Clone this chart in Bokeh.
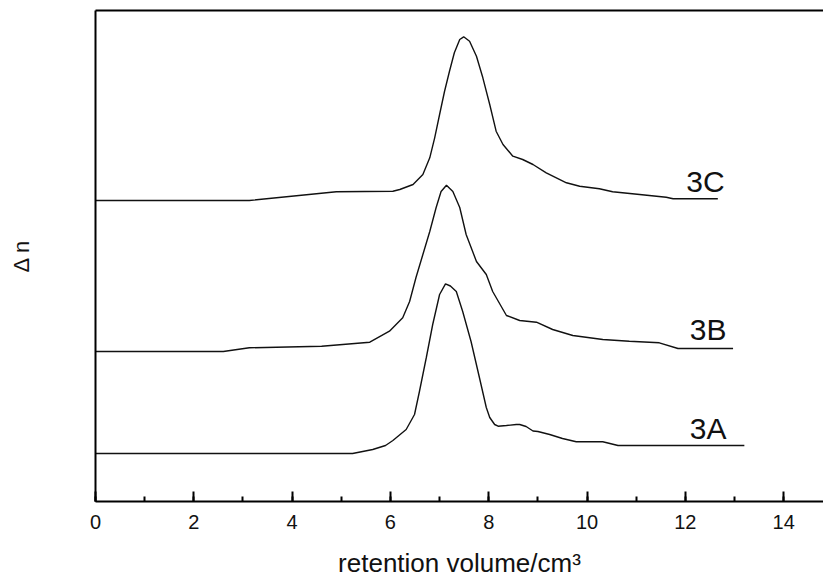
from bokeh.plotting import figure
from bokeh.models import LinearAxis, SingleIntervalTicker, FixedTicker, Range1d
from bokeh.core.properties import value
from bokeh.embed import file_html
from bokeh.resources import INLINE

# ---- data (relative Δn signal above each trace's own baseline) ----
x_3a = [0.0, 5.23, 5.64, 5.9, 6.05, 6.32, 6.49, 6.59, 6.73, 6.86, 7.0, 7.12, 7.22, 7.34, 7.47, 7.64,
        7.81, 7.95, 8.02, 8.12, 8.19, 8.36, 8.56, 8.63, 8.76, 8.9, 9.0, 9.24, 9.5, 9.78, 10.32, 10.63, 13.2]
y_3a = [0, 0, 4, 8, 13, 24, 39, 62, 96, 129, 159, 169.7, 167.5, 162, 142, 112,
        76, 46, 36, 29, 27.3, 28, 29, 29, 27, 22.5, 22, 19, 15, 11.7, 11.7, 8, 8]

x_3b = [0.0, 2.6, 3.13, 4.6, 5.58, 5.98, 6.25, 6.39, 6.52, 6.66, 6.8, 6.93, 7.03, 7.14, 7.27, 7.41,
        7.54, 7.75, 7.95, 8.08, 8.15, 8.36, 8.63, 8.97, 9.3, 9.71, 10.32, 10.86, 11.47, 11.85, 12.97]
y_3b = [0, 0, 3.7, 5.3, 9.3, 20.3, 33.7, 50, 74, 97, 120, 144, 160, 166.3, 160, 144,
        117, 90, 77, 60, 54, 36, 31, 29.3, 22, 16, 12, 10.3, 8.7, 3, 3]

x_3c = [0.0, 3.13, 4.9, 6.05, 6.19, 6.46, 6.66, 6.8, 6.9, 7.0, 7.1, 7.2, 7.3, 7.41, 7.49, 7.61,
        7.75, 7.88, 8.02, 8.15, 8.29, 8.49, 8.69, 8.9, 9.17, 9.58, 9.85, 10.25, 10.52, 11.07, 11.61, 11.75, 12.66]
y_3c = [0, 0, 8.7, 9.3, 11, 16, 26, 42.7, 62.7, 86, 109, 129, 147.7, 161, 163.7, 159.3,
        144.3, 122.7, 96, 69.3, 56, 44.3, 41, 36, 27.7, 17.7, 14.3, 11.7, 8.7, 6, 3.3, 1.7, 1.7]

series_names = ["3A", "3B", "3C"]
baselines = [48, 150, 301]           # vertical offset of each trace
label_x = [12.09, 12.09, 12.02]
label_dy = [25, 22, 19]              # label position above each baseline

xs = [x_3a, x_3b, x_3c]
ys = [y_3a, y_3b, y_3c]

p = figure(width=823, height=582, output_backend="svg", toolbar_location=None,
           x_range=Range1d(0, 14.81), y_range=Range1d(0, 491),
           min_border_left=95, min_border_right=0, min_border_top=10, min_border_bottom=81,
           background_fill_color="white", border_fill_color="white")
p.outline_line_color = None
p.xgrid.visible = False
p.ygrid.visible = False

font = "Liberation Sans"

for xv, yv, b in zip(xs, ys, baselines):
    p.line(xv, [v + b for v in yv], line_color="#111111", line_width=1.4)

p.text(x=label_x, y=[b + d for b, d in zip(baselines, label_dy)], text=series_names,
       text_font=value(font), text_font_size="30px", text_align="left",
       text_baseline="middle", text_color="#111111")

# x axis
xa = p.xaxis[0]
xa.ticker = SingleIntervalTicker(interval=2, num_minor_ticks=2)
xa.axis_line_width = 2
xa.major_tick_in = 10
xa.major_tick_out = 0
xa.minor_tick_in = 5
xa.minor_tick_out = 0
xa.major_tick_line_width = 2
xa.minor_tick_line_width = 2
xa.major_label_text_font = font
xa.major_label_text_font_size = "20px"
xa.major_label_text_color = "#111111"
xa.major_label_standoff = 13
xa.axis_label = "retention volume/cm³"
xa.axis_label_text_font = font
xa.axis_label_text_font_size = "26px"
xa.axis_label_text_font_style = "normal"
xa.axis_label_text_color = "#111111"
xa.axis_label_standoff = 16

# y axis (no ticks)
ya = p.yaxis[0]
ya.ticker = FixedTicker(ticks=[])
ya.axis_line_width = 2
ya.major_tick_line_color = None
ya.minor_tick_line_color = None
ya.axis_label = "Δ n"
ya.axis_label_text_font = font
ya.axis_label_text_font_size = "22px"
ya.axis_label_text_font_style = "normal"
ya.axis_label_text_color = "#111111"
ya.axis_label_standoff = 62

# top border line
top = LinearAxis(ticker=FixedTicker(ticks=[]), axis_line_width=2,
                 major_tick_line_color=None, minor_tick_line_color=None,
                 major_label_text_font_size="0px")
p.add_layout(top, "above")

open("out.html", "w").write(file_html(p, INLINE))
